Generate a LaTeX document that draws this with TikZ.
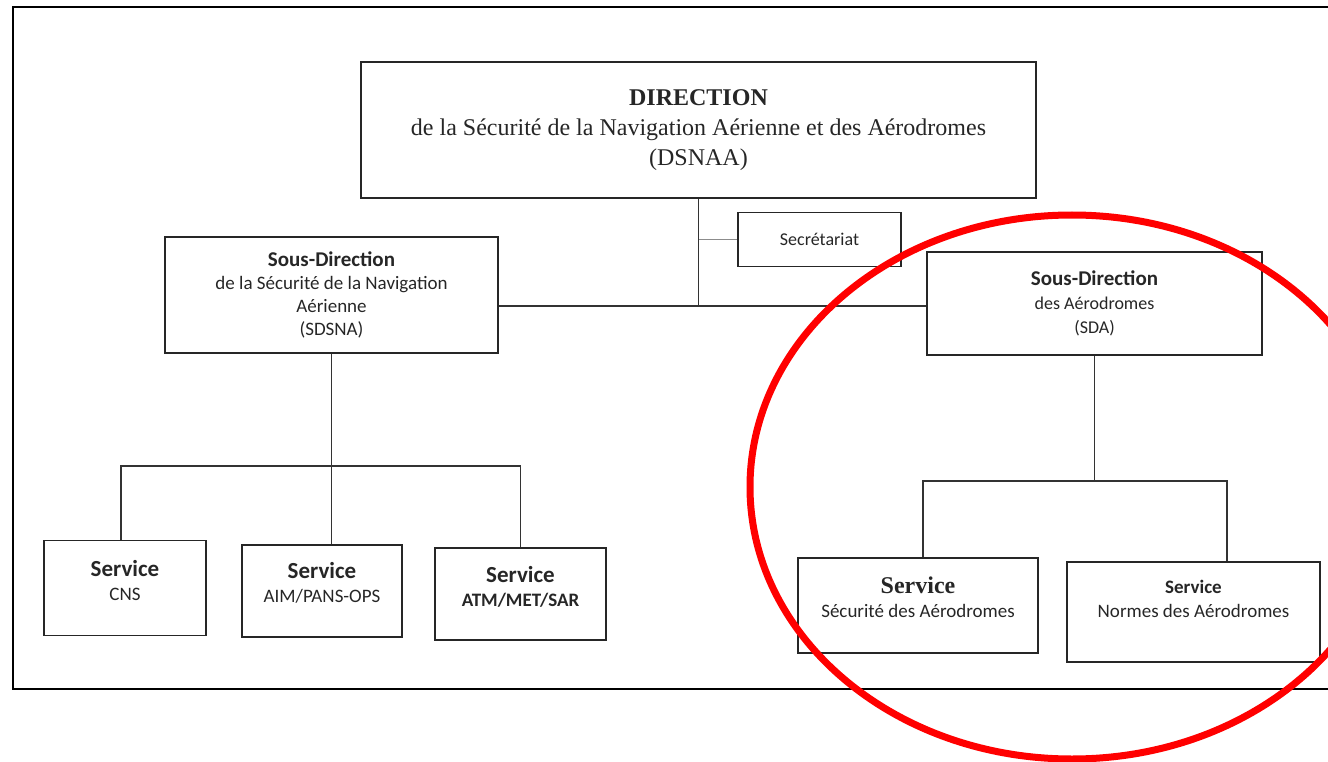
\documentclass[tikz,border=0pt]{standalone}
\usepackage{fontspec}
\setmainfont{Liberation Serif}
\newfontfamily\calib{Carlito}
\begin{document}
\begin{tikzpicture}[x=1pt,y=-1pt,
    box/.style={draw=black!85, line width=1.8pt, inner sep=0pt, align=center, text=black!85},
    link/.style={draw=black!80, line width=1.3pt},
    svc/.style={box, font=\calib\fontsize{19}{24}\selectfont},
    svctxt/.style={align=center, text=black!85, inner sep=0pt, font=\calib\fontsize{19}{24}\selectfont}]
    \useasboundingbox (0,0) rectangle (1328,762);
    \draw [line width=1.5pt] (1340,7) -- (13,7) -- (13,689) -- (1340,689);
    % direction and sub-directions
    \node [box, minimum width=675, minimum height=136, font=\fontsize{24}{30}\selectfont] (dsnaa) at (698.5,130)
        {\textbf{DIRECTION}\\de la Sécurité de la Navigation Aérienne et des Aérodromes\\(DSNAA)};
    \node [box, minimum width=163, minimum height=54, font=\calib\fontsize{18}{22}\selectfont] (secr) at (819.5,239.5) {Secrétariat};
    \node [box, minimum width=333, minimum height=116, font=\calib\fontsize{19}{23}\selectfont] (sdsna) at (331.5,295)
        {{\fontsize{21}{23}\selectfont\bfseries Sous-Direction}\\de la Sécurité de la Navigation\\Aérienne\\(SDSNA)};
    \node [box, minimum width=335, minimum height=103, font=\calib\fontsize{18}{24}\selectfont] (sda) at (1094.5,303.5)
        {{\fontsize{21}{24}\selectfont\bfseries Sous-Direction}\\des Aérodromes\\(SDA)};
    % services
    \node [svc, minimum width=162, minimum height=95, label={[svctxt, yshift=8]center:{{\fontsize{23}{24}\selectfont\bfseries Service}\\CNS}}] (cns) at (125,588) {};
    \node [svc, minimum width=160, minimum height=92, label={[svctxt, yshift=8]center:{{\fontsize{23}{24}\selectfont\bfseries Service}\\AIM/PANS-OPS}}] (aim) at (322,591) {};
    \node [svc, minimum width=171, minimum height=92, label={[svctxt, yshift=7]center:{{\fontsize{23}{24}\selectfont\bfseries Service}\\\textbf{ATM/MET/SAR}}}] (atm) at (520.5,594) {};
    \node [svc, minimum width=240, minimum height=95, label={[svctxt, yshift=8]center:{{\rmfamily\fontsize{24}{26}\selectfont\bfseries Service}\\Sécurité des Aérodromes}}] (secu) at (918,605.5) {};
    \node [svc, minimum width=253, minimum height=100, label={[svctxt, yshift=13]center:{\textbf{Service}\\Normes des Aérodromes}}] (norm) at (1193.5,612) {};
    % connectors
    \draw [link] (dsnaa.south) -- (dsnaa.south |- 0,306) coordinate (hub);
    \draw [link] (sdsna.east |- hub) -- (sda.west |- hub);
    \draw [draw=black!45, line width=0.8pt] (secr.west) -- (secr.west -| hub);
    \draw [link] (sdsna.south) -- (aim.north -| sdsna.south);
    \coordinate (lbar) at (0,466);
    \draw [link] ([xshift=-4]cns.north) |- (atm.north |- lbar) -- (atm.north);
    \draw [link] (sda.south) -- (sda.south |- 0,481) coordinate (rbar);
    \draw [link] ([xshift=5]secu.north) |- (1227,481) coordinate (rend) -- (rend |- norm.north);
    % highlight
    \draw [red, line width=7pt] (1072,487) ellipse [x radius=322, y radius=272];
\end{tikzpicture}
\end{document}
